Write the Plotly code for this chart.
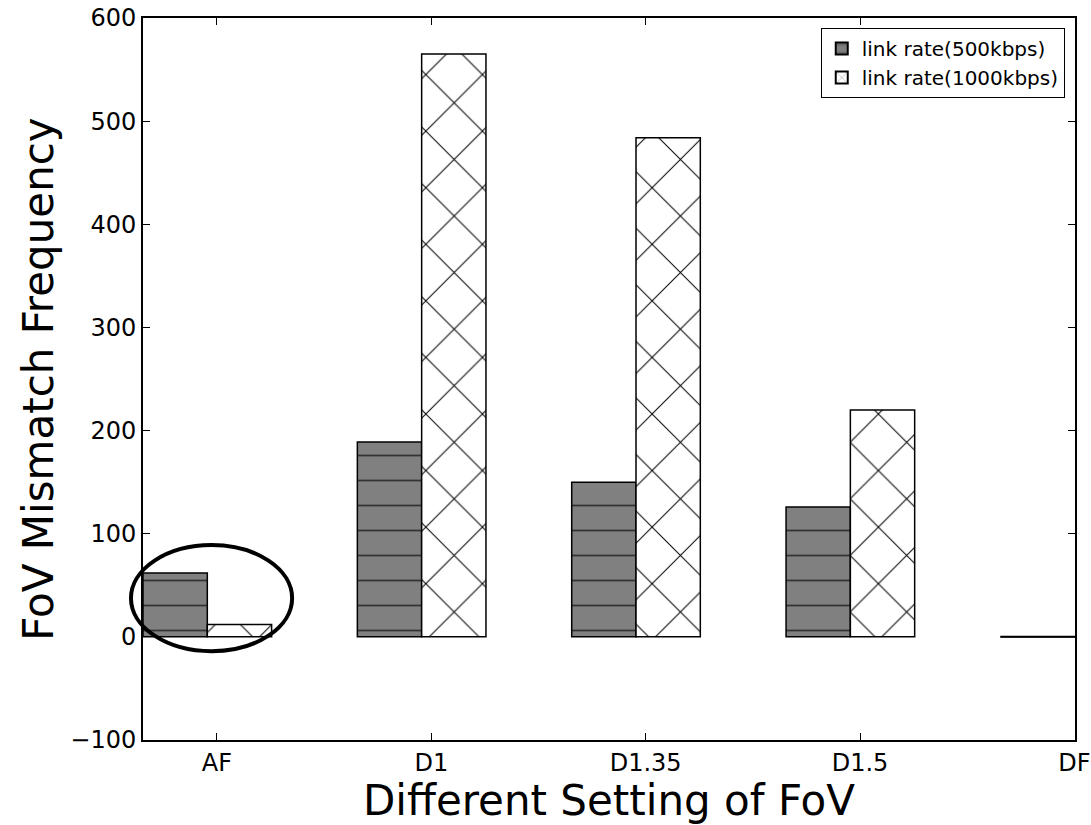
import plotly.graph_objects as go

categories = ["AF", "D1", "D1.35", "D1.5", "DF"]
rate_500 = [62, 189, 150, 126, 0]
rate_1000 = [12, 565, 484, 220, 0]
y_ticks = [-100, 0, 100, 200, 300, 400, 500, 600]

idx = list(range(len(categories)))
W = 0.3
OFF1 = -0.345
OFF2 = OFF1 + W

FONT = "DejaVu Sans"

fig = go.Figure()
fig.add_trace(go.Bar(
    x=idx, y=rate_500, width=W, offset=OFF1, name="link rate(500kbps)",
    marker=dict(color="#808080", line=dict(color="black", width=1.5),
                pattern=dict(shape="-", bgcolor="#808080", fgcolor="#333333",
                             size=25, solidity=0.07, fillmode="replace")),
))
fig.add_trace(go.Bar(
    x=idx, y=rate_1000, width=W, offset=OFF2, name="link rate(1000kbps)",
    marker=dict(color="white", line=dict(color="black", width=1.5),
                pattern=dict(shape="x", bgcolor="white", fgcolor="black",
                             size=40, solidity=0.05, fillmode="replace")),
))
# zero-height bars (matplotlib draws them as a flat line)
zx, zy = [], []
for i, (a, b) in enumerate(zip(rate_500, rate_1000)):
    if a == 0 and b == 0:
        zx += [i + OFF1, i + OFF2 + W, None]
        zy += [0, 0, None]
fig.add_trace(go.Scatter(x=zx, y=zy, mode="lines", line=dict(color="black", width=2),
                         showlegend=False, hoverinfo="skip"))

fig.add_shape(type="circle", xref="paper", yref="paper",
              x0=-0.0129, x1=0.160, y0=0.123, y1=0.270,
              line=dict(color="black", width=4), layer="above")

fig.update_layout(
    width=1091, height=825, autosize=False,
    margin=dict(l=143, r=16, t=18, b=85, autoexpand=False),
    paper_bgcolor="white", plot_bgcolor="white",
    barmode="overlay",
    font=dict(family=FONT, color="black", size=24),
    showlegend=True,
    legend=dict(x=0.989, y=0.986, xanchor="right", yanchor="top",
                bordercolor="black", borderwidth=1, bgcolor="white",
                font=dict(size=20, family=FONT), tracegroupgap=0,
                itemsizing="constant"),
    xaxis=dict(range=[-0.345, 4.003], tickvals=idx, ticktext=categories,
               automargin=False,
               showgrid=False, zeroline=False, showline=True, linecolor="black",
               linewidth=2, mirror="ticks", ticks="inside", ticklen=7,
               tickcolor="black", tickfont=dict(size=24),
               title=dict(text="Different Setting of FoV", font=dict(size=42), standoff=4)),
    yaxis=dict(range=[-100, 600], tickvals=y_ticks, automargin=False,
               showgrid=False, zeroline=False, showline=True, linecolor="black",
               linewidth=2, mirror="ticks", ticks="inside", ticklen=7,
               tickcolor="black", tickfont=dict(size=24),
               title=dict(text="FoV Mismatch Frequency", font=dict(size=42), standoff=4)),
)

fig.write_html("out.html", config={"responsive": False})
